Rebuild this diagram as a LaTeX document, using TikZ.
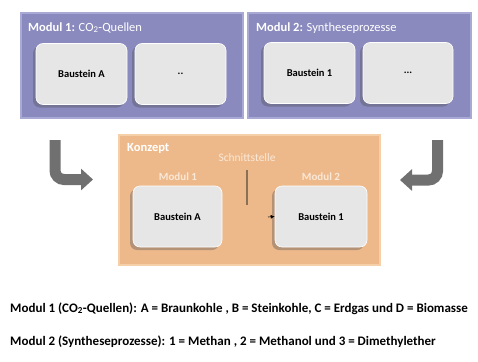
\documentclass[tikz,border=0pt]{standalone}
\usepackage{fontspec}
\setmainfont{Carlito}
\usetikzlibrary{arrows.meta,shadows}
\definecolor{modpurple}{HTML}{8A8ABF}
\definecolor{modedge}{HTML}{A9A9D6}
\definecolor{konorange}{HTML}{EDB98B}
\definecolor{konedge}{HTML}{F5CFA8}
\definecolor{boxgray}{HTML}{E6E6E6}
\definecolor{arrowgray}{HTML}{707070}
\definecolor{lighttext}{HTML}{FAE8D6}
\definecolor{ifline}{HTML}{8A7055}
\tikzset{
  modbox/.style={draw=modedge, line width=1.2pt, fill=modpurple, minimum width=#1, minimum height=105pt, inner sep=0pt},
  konbox/.style={draw=konedge, line width=1.2pt, fill=konorange, minimum width=261pt, minimum height=130pt, inner sep=0pt},
  bstein/.style={fill=boxgray, draw=white, line width=0.6pt, rounded corners=7pt, minimum width=#1, minimum height=61pt, inner sep=0pt,
    font=\fontsize{10.5}{12}\selectfont\bfseries,
    drop shadow={shadow xshift=-3pt, shadow yshift=-3pt, opacity=0.35, fill=black!70}},
  modtitle/.style={anchor=base west, text=white, font=\fontsize{12.5}{14}\selectfont, inner sep=0pt},
  kontitle/.style={text=lighttext, font=\fontsize{11}{13}\selectfont\bfseries, inner sep=0pt},
  bentarrow/.style={draw=arrowgray, line width=11pt, rounded corners=9pt, -{Triangle[length=12pt,width=21pt]}},
  legend/.style={anchor=base west, font=\fontsize{13}{15}\selectfont\bfseries, inner sep=0pt}
}
\begin{document}
\begin{tikzpicture}[x=1pt,y=-1pt]
\useasboundingbox (0,0) rectangle (478,361);
% Module boxes
\node[modbox=222pt] (m1) at (132,65.5) {};
\node[modbox=223pt] (m2) at (359.5,65.5) {};
\node[modtitle] (m1t) at (28,31) {\bfseries Modul 1: \mdseries CO\textsubscript{2}-Quellen};
\node[modtitle] (m2t) at (256,31) {\bfseries Modul 2: \mdseries Syntheseprozesse};
\node[bstein=91pt] (b1a) at (81.5,74) {Baustein A};
\node[bstein=91pt] (b1d) at (180.5,74) {..};
\node[bstein=91pt] (b21) at (309.5,73) {Baustein 1};
\node[bstein=90pt] (b2d) at (408,73) {...};
% Konzept
\node[konbox] (k) at (249.5,200) {};
\node[anchor=base west, text=white, font=\fontsize{12.5}{14}\selectfont\bfseries, inner sep=0pt] (kt) at (127,151) {Konzept};
\node[text=lighttext, font=\fontsize{11.5}{13}\selectfont, inner sep=0pt] (st) at (247,158) {Schnittstelle};
\coordinate (ltop) at (247,170);
\coordinate (lbot) at (247,205);
\draw[ifline, line width=1.2pt] (ltop) -- (lbot);
\node[kontitle] (km1) at (178,177) {Modul 1};
\node[kontitle] (km2) at (321,177) {Modul 2};
\node[bstein=89pt] (ka) at (177.5,216.5) {Baustein A};
\node[bstein=92pt] (k1) at (321,216.5) {Baustein 1};
\coordinate (ifs) at (268,217);
\draw[-{Latex[length=4pt,width=4pt]}, line width=0.6pt, black] (ifs) -- (k1.west);
% bent arrows
\coordinate (la1) at (55,140);
\coordinate (la2) at (93,179.5);
\draw[bentarrow] (la1) -- (55,179.5) -- (la2);
\coordinate (ra1) at (437.5,140);
\coordinate (ra2) at (400,180);
\draw[bentarrow] (ra1) -- (437.5,180) -- (ra2);
% legend
\node[legend] (l1) at (10,312) {Modul 1 (CO\textsubscript{2}-Quellen): A = Braunkohle , B = Steinkohle, C = Erdgas und D = Biomasse};
\node[legend] (l2) at (10,345) {Modul 2 (Syntheseprozesse): 1 = Methan , 2 = Methanol und 3 = Dimethylether};
\end{tikzpicture}
\end{document}
